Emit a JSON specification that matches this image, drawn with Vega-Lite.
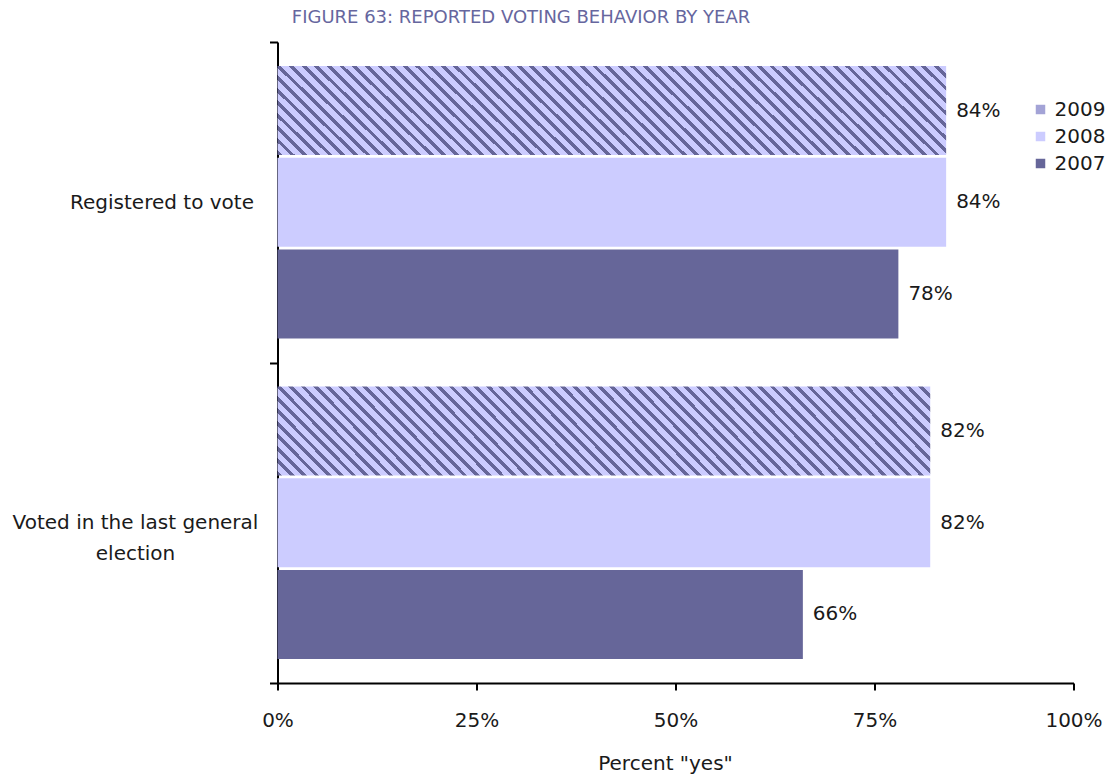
{
"$schema": "https://vega.github.io/schema/vega-lite/v6.json",
"width": 796, "height": 641,
"autosize": {"type": "none"},
"padding": {"left": 277.5, "top": 42, "right": 38.5, "bottom": 95},
"background": "white",
"config": {"view": {"stroke": null}, "font": "DejaVu Sans"},
"title": {"text": "FIGURE 63: REPORTED VOTING BEHAVIOR BY YEAR", "font": "DejaVu Sans", "fontSize": 18, "fontWeight": "normal", "color": "#66669e", "anchor": "middle", "frame": "group", "dx": -154.5, "dy": 11, "offset": 16},
"data": {"values": [
  {"question": "Registered to vote", "year": "2009", "share": 0.84},
  {"question": "Registered to vote", "year": "2008", "share": 0.84},
  {"question": "Registered to vote", "year": "2007", "share": 0.78},
  {"question": "Voted in the last general election", "year": "2009", "share": 0.82},
  {"question": "Voted in the last general election", "year": "2008", "share": 0.82},
  {"question": "Voted in the last general election", "year": "2007", "share": 0.66}
]},
"encoding": {
  "y": {"field": "question", "type": "nominal", "sort": ["Registered to vote", "Voted in the last general election"],
    "scale": {"paddingInner": 0, "paddingOuter": 0},
    "axis": {"title": null, "domainColor": "black", "domainWidth": 2, "tickColor": "black", "tickWidth": 2, "tickSize": 8, "tickBand": "extent",
      "labelFontSize": 20, "labelColor": "#1a1a1a", "labelAlign": "center", "labelBaseline": "middle", "labelLimit": 400, "labelLineHeight": 31,
      "labelPadding": {"condition": {"test": "datum.value === 'Registered to vote'", "value": 108}, "value": 134.5},
      "labelExpr": "datum.value === 'Voted in the last general election' ? ['Voted in the last general', 'election'] : datum.label"}},
  "yOffset": {"field": "year", "type": "nominal", "sort": ["2009", "2008", "2007"], "scale": {"paddingInner": 0.03, "paddingOuter": 0.2616}},
  "x": {"field": "share", "type": "quantitative", "scale": {"domain": [0, 1]},
    "axis": {"title": "Percent \"yes\"", "values": [0, 0.25, 0.5, 0.75, 1], "format": ".0%", "grid": false, "domainColor": "black", "domainWidth": 2, "tickColor": "black", "tickWidth": 2, "tickSize": 7,
      "labelFontSize": 20, "labelColor": "#1a1a1a", "labelPadding": 20, "labelFlush": false,
      "titleFontSize": 20, "titleFontWeight": "normal", "titleColor": "#1a1a1a", "titleX": 387.5, "titleY": 80, "titleBaseline": "middle"}}
},
"layer": [
  {"mark": {"type": "bar"},
   "encoding": {"color": {"field": "year", "type": "nominal",
     "scale": {"domain": ["2009", "2008", "2007"], "range": ["#a3a3d6", "#ccccff", "#666699"]},
     "condition": {"test": "datum.year === '2009'", "value": {"gradient": "linear", "x1": 0, "y1": 1, "x2": 1.1146, "y2": 0.8497, "stops": [
{"offset":0,"color":"#ccccff"},{"offset":0,"color":"#666699"},{"offset":0.0064,"color":"#666699"},{"offset":0.0064,"color":"#ccccff"},
{"offset":0.01667,"color":"#ccccff"},{"offset":0.01667,"color":"#666699"},{"offset":0.02307,"color":"#666699"},{"offset":0.02307,"color":"#ccccff"},
{"offset":0.03333,"color":"#ccccff"},{"offset":0.03333,"color":"#666699"},{"offset":0.03973,"color":"#666699"},{"offset":0.03973,"color":"#ccccff"},
{"offset":0.05,"color":"#ccccff"},{"offset":0.05,"color":"#666699"},{"offset":0.0564,"color":"#666699"},{"offset":0.0564,"color":"#ccccff"},
{"offset":0.06667,"color":"#ccccff"},{"offset":0.06667,"color":"#666699"},{"offset":0.07307,"color":"#666699"},{"offset":0.07307,"color":"#ccccff"},
{"offset":0.08333,"color":"#ccccff"},{"offset":0.08333,"color":"#666699"},{"offset":0.08973,"color":"#666699"},{"offset":0.08973,"color":"#ccccff"},
{"offset":0.1,"color":"#ccccff"},{"offset":0.1,"color":"#666699"},{"offset":0.1064,"color":"#666699"},{"offset":0.1064,"color":"#ccccff"},
{"offset":0.11667,"color":"#ccccff"},{"offset":0.11667,"color":"#666699"},{"offset":0.12307,"color":"#666699"},{"offset":0.12307,"color":"#ccccff"},
{"offset":0.13333,"color":"#ccccff"},{"offset":0.13333,"color":"#666699"},{"offset":0.13973,"color":"#666699"},{"offset":0.13973,"color":"#ccccff"},
{"offset":0.15,"color":"#ccccff"},{"offset":0.15,"color":"#666699"},{"offset":0.1564,"color":"#666699"},{"offset":0.1564,"color":"#ccccff"},
{"offset":0.16667,"color":"#ccccff"},{"offset":0.16667,"color":"#666699"},{"offset":0.17307,"color":"#666699"},{"offset":0.17307,"color":"#ccccff"},
{"offset":0.18333,"color":"#ccccff"},{"offset":0.18333,"color":"#666699"},{"offset":0.18973,"color":"#666699"},{"offset":0.18973,"color":"#ccccff"},
{"offset":0.2,"color":"#ccccff"},{"offset":0.2,"color":"#666699"},{"offset":0.2064,"color":"#666699"},{"offset":0.2064,"color":"#ccccff"},
{"offset":0.21667,"color":"#ccccff"},{"offset":0.21667,"color":"#666699"},{"offset":0.22307,"color":"#666699"},{"offset":0.22307,"color":"#ccccff"},
{"offset":0.23333,"color":"#ccccff"},{"offset":0.23333,"color":"#666699"},{"offset":0.23973,"color":"#666699"},{"offset":0.23973,"color":"#ccccff"},
{"offset":0.25,"color":"#ccccff"},{"offset":0.25,"color":"#666699"},{"offset":0.2564,"color":"#666699"},{"offset":0.2564,"color":"#ccccff"},
{"offset":0.26667,"color":"#ccccff"},{"offset":0.26667,"color":"#666699"},{"offset":0.27307,"color":"#666699"},{"offset":0.27307,"color":"#ccccff"},
{"offset":0.28333,"color":"#ccccff"},{"offset":0.28333,"color":"#666699"},{"offset":0.28973,"color":"#666699"},{"offset":0.28973,"color":"#ccccff"},
{"offset":0.3,"color":"#ccccff"},{"offset":0.3,"color":"#666699"},{"offset":0.3064,"color":"#666699"},{"offset":0.3064,"color":"#ccccff"},
{"offset":0.31667,"color":"#ccccff"},{"offset":0.31667,"color":"#666699"},{"offset":0.32307,"color":"#666699"},{"offset":0.32307,"color":"#ccccff"},
{"offset":0.33333,"color":"#ccccff"},{"offset":0.33333,"color":"#666699"},{"offset":0.33973,"color":"#666699"},{"offset":0.33973,"color":"#ccccff"},
{"offset":0.35,"color":"#ccccff"},{"offset":0.35,"color":"#666699"},{"offset":0.3564,"color":"#666699"},{"offset":0.3564,"color":"#ccccff"},
{"offset":0.36667,"color":"#ccccff"},{"offset":0.36667,"color":"#666699"},{"offset":0.37307,"color":"#666699"},{"offset":0.37307,"color":"#ccccff"},
{"offset":0.38333,"color":"#ccccff"},{"offset":0.38333,"color":"#666699"},{"offset":0.38973,"color":"#666699"},{"offset":0.38973,"color":"#ccccff"},
{"offset":0.4,"color":"#ccccff"},{"offset":0.4,"color":"#666699"},{"offset":0.4064,"color":"#666699"},{"offset":0.4064,"color":"#ccccff"},
{"offset":0.41667,"color":"#ccccff"},{"offset":0.41667,"color":"#666699"},{"offset":0.42307,"color":"#666699"},{"offset":0.42307,"color":"#ccccff"},
{"offset":0.43333,"color":"#ccccff"},{"offset":0.43333,"color":"#666699"},{"offset":0.43973,"color":"#666699"},{"offset":0.43973,"color":"#ccccff"},
{"offset":0.45,"color":"#ccccff"},{"offset":0.45,"color":"#666699"},{"offset":0.4564,"color":"#666699"},{"offset":0.4564,"color":"#ccccff"},
{"offset":0.46667,"color":"#ccccff"},{"offset":0.46667,"color":"#666699"},{"offset":0.47307,"color":"#666699"},{"offset":0.47307,"color":"#ccccff"},
{"offset":0.48333,"color":"#ccccff"},{"offset":0.48333,"color":"#666699"},{"offset":0.48973,"color":"#666699"},{"offset":0.48973,"color":"#ccccff"},
{"offset":0.5,"color":"#ccccff"},{"offset":0.5,"color":"#666699"},{"offset":0.5064,"color":"#666699"},{"offset":0.5064,"color":"#ccccff"},
{"offset":0.51667,"color":"#ccccff"},{"offset":0.51667,"color":"#666699"},{"offset":0.52307,"color":"#666699"},{"offset":0.52307,"color":"#ccccff"},
{"offset":0.53333,"color":"#ccccff"},{"offset":0.53333,"color":"#666699"},{"offset":0.53973,"color":"#666699"},{"offset":0.53973,"color":"#ccccff"},
{"offset":0.55,"color":"#ccccff"},{"offset":0.55,"color":"#666699"},{"offset":0.5564,"color":"#666699"},{"offset":0.5564,"color":"#ccccff"},
{"offset":0.56667,"color":"#ccccff"},{"offset":0.56667,"color":"#666699"},{"offset":0.57307,"color":"#666699"},{"offset":0.57307,"color":"#ccccff"},
{"offset":0.58333,"color":"#ccccff"},{"offset":0.58333,"color":"#666699"},{"offset":0.58973,"color":"#666699"},{"offset":0.58973,"color":"#ccccff"},
{"offset":0.6,"color":"#ccccff"},{"offset":0.6,"color":"#666699"},{"offset":0.6064,"color":"#666699"},{"offset":0.6064,"color":"#ccccff"},
{"offset":0.61667,"color":"#ccccff"},{"offset":0.61667,"color":"#666699"},{"offset":0.62307,"color":"#666699"},{"offset":0.62307,"color":"#ccccff"},
{"offset":0.63333,"color":"#ccccff"},{"offset":0.63333,"color":"#666699"},{"offset":0.63973,"color":"#666699"},{"offset":0.63973,"color":"#ccccff"},
{"offset":0.65,"color":"#ccccff"},{"offset":0.65,"color":"#666699"},{"offset":0.6564,"color":"#666699"},{"offset":0.6564,"color":"#ccccff"},
{"offset":0.66667,"color":"#ccccff"},{"offset":0.66667,"color":"#666699"},{"offset":0.67307,"color":"#666699"},{"offset":0.67307,"color":"#ccccff"},
{"offset":0.68333,"color":"#ccccff"},{"offset":0.68333,"color":"#666699"},{"offset":0.68973,"color":"#666699"},{"offset":0.68973,"color":"#ccccff"},
{"offset":0.7,"color":"#ccccff"},{"offset":0.7,"color":"#666699"},{"offset":0.7064,"color":"#666699"},{"offset":0.7064,"color":"#ccccff"},
{"offset":0.71667,"color":"#ccccff"},{"offset":0.71667,"color":"#666699"},{"offset":0.72307,"color":"#666699"},{"offset":0.72307,"color":"#ccccff"},
{"offset":0.73333,"color":"#ccccff"},{"offset":0.73333,"color":"#666699"},{"offset":0.73973,"color":"#666699"},{"offset":0.73973,"color":"#ccccff"},
{"offset":0.75,"color":"#ccccff"},{"offset":0.75,"color":"#666699"},{"offset":0.7564,"color":"#666699"},{"offset":0.7564,"color":"#ccccff"},
{"offset":0.76667,"color":"#ccccff"},{"offset":0.76667,"color":"#666699"},{"offset":0.77307,"color":"#666699"},{"offset":0.77307,"color":"#ccccff"},
{"offset":0.78333,"color":"#ccccff"},{"offset":0.78333,"color":"#666699"},{"offset":0.78973,"color":"#666699"},{"offset":0.78973,"color":"#ccccff"},
{"offset":0.8,"color":"#ccccff"},{"offset":0.8,"color":"#666699"},{"offset":0.8064,"color":"#666699"},{"offset":0.8064,"color":"#ccccff"},
{"offset":0.81667,"color":"#ccccff"},{"offset":0.81667,"color":"#666699"},{"offset":0.82307,"color":"#666699"},{"offset":0.82307,"color":"#ccccff"},
{"offset":0.83333,"color":"#ccccff"},{"offset":0.83333,"color":"#666699"},{"offset":0.83973,"color":"#666699"},{"offset":0.83973,"color":"#ccccff"},
{"offset":0.85,"color":"#ccccff"},{"offset":0.85,"color":"#666699"},{"offset":0.8564,"color":"#666699"},{"offset":0.8564,"color":"#ccccff"},
{"offset":0.86667,"color":"#ccccff"},{"offset":0.86667,"color":"#666699"},{"offset":0.87307,"color":"#666699"},{"offset":0.87307,"color":"#ccccff"},
{"offset":0.88333,"color":"#ccccff"},{"offset":0.88333,"color":"#666699"},{"offset":0.88973,"color":"#666699"},{"offset":0.88973,"color":"#ccccff"},
{"offset":0.9,"color":"#ccccff"},{"offset":0.9,"color":"#666699"},{"offset":0.9064,"color":"#666699"},{"offset":0.9064,"color":"#ccccff"},
{"offset":0.91667,"color":"#ccccff"},{"offset":0.91667,"color":"#666699"},{"offset":0.92307,"color":"#666699"},{"offset":0.92307,"color":"#ccccff"},
{"offset":0.93333,"color":"#ccccff"},{"offset":0.93333,"color":"#666699"},{"offset":0.93973,"color":"#666699"},{"offset":0.93973,"color":"#ccccff"},
{"offset":0.95,"color":"#ccccff"},{"offset":0.95,"color":"#666699"},{"offset":0.9564,"color":"#666699"},{"offset":0.9564,"color":"#ccccff"},
{"offset":0.96667,"color":"#ccccff"},{"offset":0.96667,"color":"#666699"},{"offset":0.97307,"color":"#666699"},{"offset":0.97307,"color":"#ccccff"},
{"offset":0.98333,"color":"#ccccff"},{"offset":0.98333,"color":"#666699"},{"offset":0.98973,"color":"#666699"},{"offset":0.98973,"color":"#ccccff"},
{"offset":1,"color":"#ccccff"}
     ]}},
     "legend": {"title": null, "orient": "none", "legendX": 753, "legendY": 57.5, "symbolType": "square", "symbolSize": 90, "symbolStrokeWidth": 0,
       "labelFontSize": 20, "labelColor": "#1a1a1a", "labelOffset": 4, "rowPadding": 7, "padding": 0,
       "encode": {"symbols": {"update": {"fill": {"condition": [
         {"test": "datum.value === '2009'", "value": {"gradient": "linear", "x1": 0, "y1": 1, "x2": 1, "y2": 0, "stops": [
           {"offset": 0, "color": "#ccccff"}, {"offset": 0.3, "color": "#ccccff"}, {"offset": 0.3, "color": "#666699"}, {"offset": 0.62, "color": "#666699"}, {"offset": 0.62, "color": "#ccccff"}, {"offset": 1, "color": "#ccccff"}]}},
         {"test": "datum.value === '2008'", "value": "#ccccff"}], "value": "#666699"}}}}}
   }}},
  {"mark": {"type": "text", "align": "left", "baseline": "middle", "dx": 10, "fontSize": 20, "color": "#1a1a1a"},
   "encoding": {"text": {"field": "share", "type": "quantitative", "format": ".0%"}}}
]
}
